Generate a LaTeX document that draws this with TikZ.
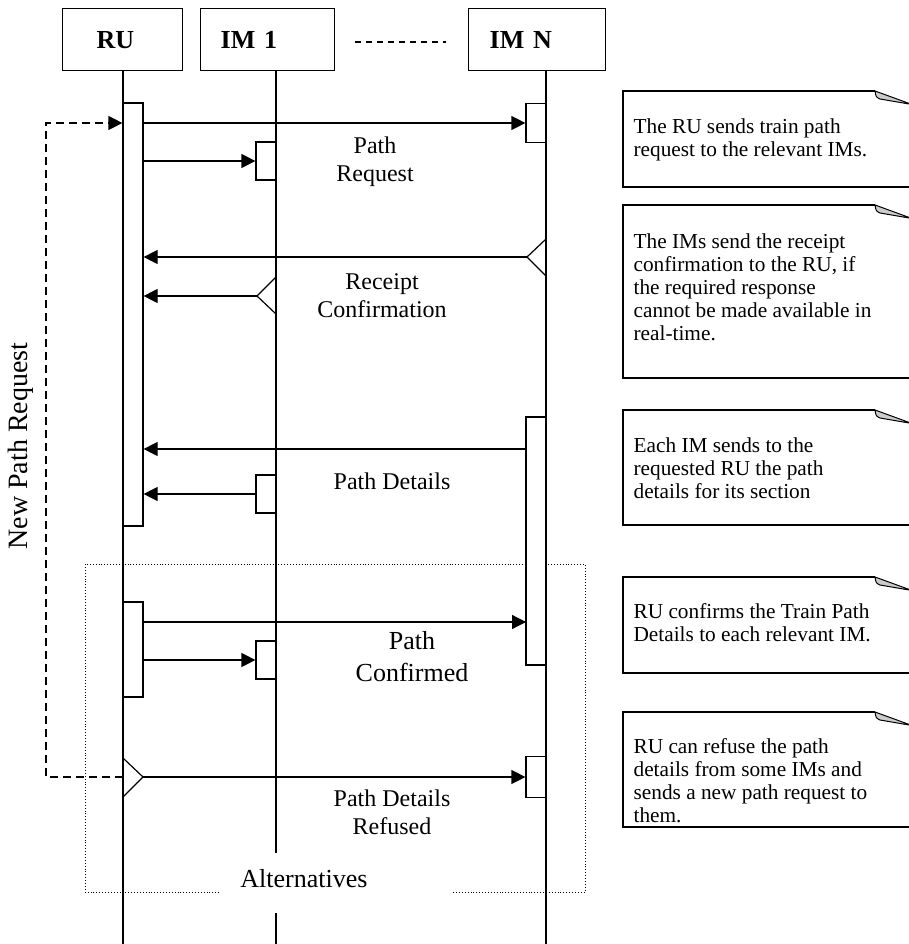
\documentclass[tikz,border=0pt]{standalone}
\usepackage{fontspec}
\setmainfont{Liberation Serif}
\usetikzlibrary{arrows.meta}
\begin{document}
\begin{tikzpicture}[x=1pt,y=-1pt,line width=1.2pt,
  head/.style={draw,line width=1.4pt,anchor=north west,minimum height=62pt,inner ysep=0pt,
    align=left,font=\fontsize{26}{30}\selectfont\bfseries},
  act/.style={draw,fill=white,minimum width=20pt,inner sep=0pt,line width=1.2pt},
  msg/.style={-{Triangle[length=14pt,width=14pt]}},
  lbl/.style={align=center,inner sep=0pt,font=\fontsize{24}{28}\selectfont},
  notebox/.style={line width=1.2pt},
  notetext/.style={anchor=north west,inner sep=0pt,align=left,
    font=\fontsize{21.3}{23}\selectfont},
  newreq/.style={dash pattern=on 8pt off 5pt,line width=1.3pt},
  frame/.style={dotted,line width=0.9pt},
]
\useasboundingbox (0,0) rectangle (908,944);

% ---- participants -------------------------------------------------
\node[head,inner xsep=34pt,text width=52pt] (ru)  at (62,8)  {RU};
\node[head,inner xsep=20pt,text width=94pt] (im1) at (200,8) {IM 1};
\node[head,inner xsep=21pt,text width=95pt] (imn) at (468,8) {IM N};
\coordinate (dotsA) at (355,42);
\coordinate (dotsB) at (446,42);
\draw[dash pattern=on 6pt off 5pt,line width=1.2pt] (dotsA) -- (dotsB);

% ---- lifelines ----------------------------------------------------
\draw (ru.south -| 123,0) -- (123,944);
\draw (im1.south -| 276,0) -- (276,853);
\draw (276,913) -- (276,944);
\draw (imn.south -| 546,0) -- (546,944);

% ---- alternatives frame -------------------------------------------
\draw[frame] (219,892) -- (85,892) -- (85,564) -- (585,564) -- (585,892) -- (452,892);
\node[inner sep=0pt,font=\fontsize{26}{30}\selectfont] (alt) at (304,879) {Alternatives};

% ---- activation bars ----------------------------------------------
\node[act,minimum height=423pt] (ru1)  at (133,314.5) {};
\node[act,minimum height=95pt]  (ru2)  at (133,649.5) {};
\node[act,minimum height=38pt]  (im1a) at (266,161) {};
\node[act,minimum height=38pt]  (im1b) at (266,494) {};
\node[act,minimum height=38pt]  (im1c) at (266,660) {};
\node[act,minimum height=39pt]  (imn1) at (536,123) {};
\node[act,minimum height=248pt] (imn2) at (536,541) {};
\node[act,minimum height=41pt]  (imn3) at (536,777) {};

% ---- path request -------------------------------------------------
\draw[msg] (ru1.east |- imn1.west) -- (imn1.west);
\draw[msg] (ru1.east |- im1a.west) -- (im1a.west);
\node[lbl] (lReq) at (375,162) {Path\\Request};

% ---- receipt confirmation -----------------------------------------
\coordinate (rcN) at (527,257);
\coordinate (rc1) at (257,296);
\draw (rcN) ++(19,-18) -- (rcN) -- ++(19,19);
\draw (rc1) ++(19,-19) -- (rc1) -- ++(19,18);
\draw[msg] (rcN) -- (ru1.east |- rcN);
\draw[msg] (rc1) -- (ru1.east |- rc1);
\node[lbl] (lRec) at (382,296) {Receipt\\Confirmation};

% ---- path details -------------------------------------------------
\coordinate (dN) at (526,449);
\draw[msg] (dN) -- (ru1.east |- dN);
\draw[msg] (im1b.west) -- (ru1.east |- im1b.west);
\node[lbl] (lDet) at (392,481) {Path Details};

% ---- path confirmed -----------------------------------------------
\coordinate (cN) at (526,622);
\draw[msg] (ru2.east |- cN) -- (cN);
\draw[msg] (ru2.east |- im1c.west) -- (im1c.west);
\node[align=center,inner sep=0pt,font=\fontsize{26}{32}\selectfont] (lConf) at (412,657) {Path\\Confirmed};

% ---- path details refused -----------------------------------------
\coordinate (refV) at (143,777);
\coordinate (refT) at (123,777);
\draw (refV) ++(-20,-19) -- (refV) -- ++(-20,20);
\draw[msg] (refV) -- (imn3.west);
\node[lbl] (lRef) at (392,812) {Path Details\\Refused};

% ---- new path request loop ----------------------------------------
\coordinate (loopX) at (46,0);
\draw[newreq,msg] (refT) -| (loopX |- imn1.west) -- (ru1.west |- imn1.west);
\node[rotate=90,inner sep=0pt,font=\fontsize{28}{32}\selectfont] (lNew) at (21,446) {New Path Request};

% ---- notes --------------------------------------------------------
\foreach \t/\b/\n in {91/187/n1,205/378/n2,410/525/n3,577/673/n4,712/827/n5}{
  \draw[notebox] (915,\b) -- (623,\b) -- (623,\t) -- (875,\t);
  \filldraw[fill=gray!40,line width=1pt] (875,\t) -- (912,\t+13.5) -- (880,\t+8) .. controls (876,\t+6) .. cycle;
}
\node[notetext] (t1) at (633,118) {The RU sends train path\\request to the relevant IMs.};
\node[notetext] (t2) at (633,233) {The IMs send the receipt\\confirmation to the RU, if\\the required response\\cannot be made available in\\real-time.};
\node[notetext] (t3) at (633,437) {Each IM sends to the\\requested RU the path\\details for its section};
\node[notetext] (t4) at (633,603) {RU confirms the Train Path\\Details to each relevant IM.};
\node[notetext] (t5) at (633,738) {RU can refuse the path\\details from some IMs and\\sends a new path request to\\them.};
\end{tikzpicture}
\end{document}
